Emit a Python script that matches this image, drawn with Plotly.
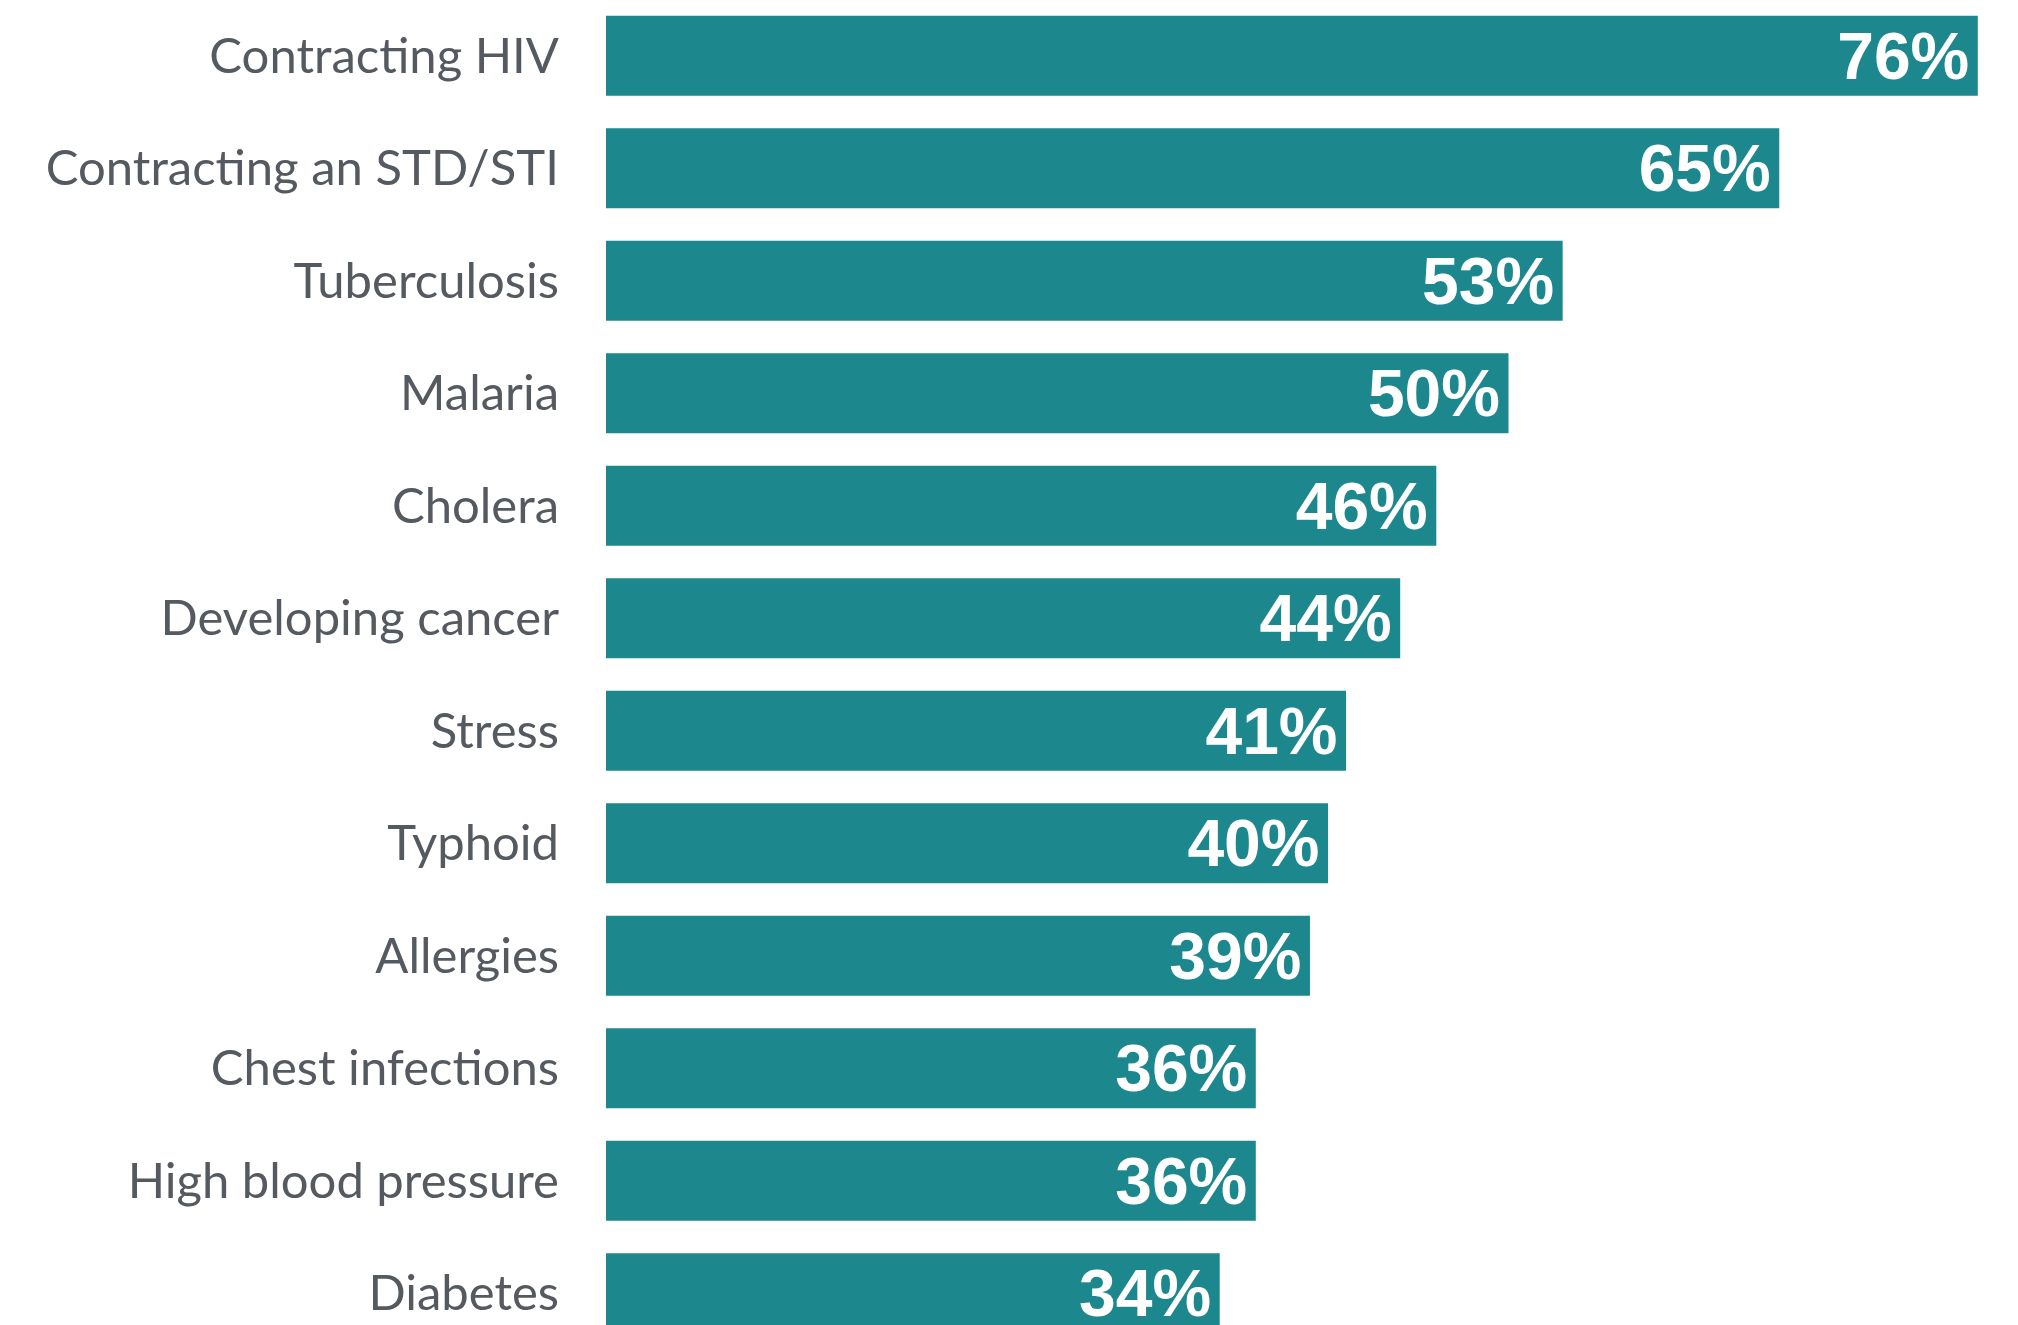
import plotly.graph_objects as go

categories = ["Contracting HIV", "Contracting an STD/STI", "Tuberculosis", "Malaria",
              "Cholera", "Developing cancer", "Stress", "Typhoid", "Allergies",
              "Chest infections", "High blood pressure", "Diabetes"]
values = [76, 65, 53, 50, 46, 44, 41, 40, 39, 36, 36, 34]

BAR_COLOR = "#1D878E"
LABEL_COLOR = "#555A60"

OFF = 8  # default page body margin
W, H = 2018 - OFF, 1325 - OFF
left = 606 - OFF
pitch = 112.5
px_per_unit = 18.05
first_center = 55.7 - OFF

fig = go.Figure(go.Bar(
    x=values, y=categories, orientation="h",
    marker=dict(color=BAR_COLOR, line=dict(width=0)),
    texttemplate="%{x}%\u200a", textposition="inside", insidetextanchor="end",
    constraintext="none",
    textfont=dict(family="Liberation Sans, Arial, sans-serif", size=66, color="white", weight="bold"),
    cliponaxis=False,
))

y0 = -first_center / pitch
fig.update_layout(
    width=W, height=H,
    margin=dict(l=left, r=0, t=0, b=0, autoexpand=False),
    paper_bgcolor="white", plot_bgcolor="white",
    bargap=1 - 80 / pitch,
    showlegend=False,
    xaxis=dict(range=[0, (W - left) / px_per_unit], visible=False, fixedrange=True),
    yaxis=dict(categoryorder="array", categoryarray=categories,
               range=[y0 + H / pitch, y0],
               showgrid=False, zeroline=False, showline=False, ticks="",
               ticklabelstandoff=46,
               tickfont=dict(family="Lato, 'Noto Sans', sans-serif", size=49, color=LABEL_COLOR)),
)

fig.write_html("out.html")
